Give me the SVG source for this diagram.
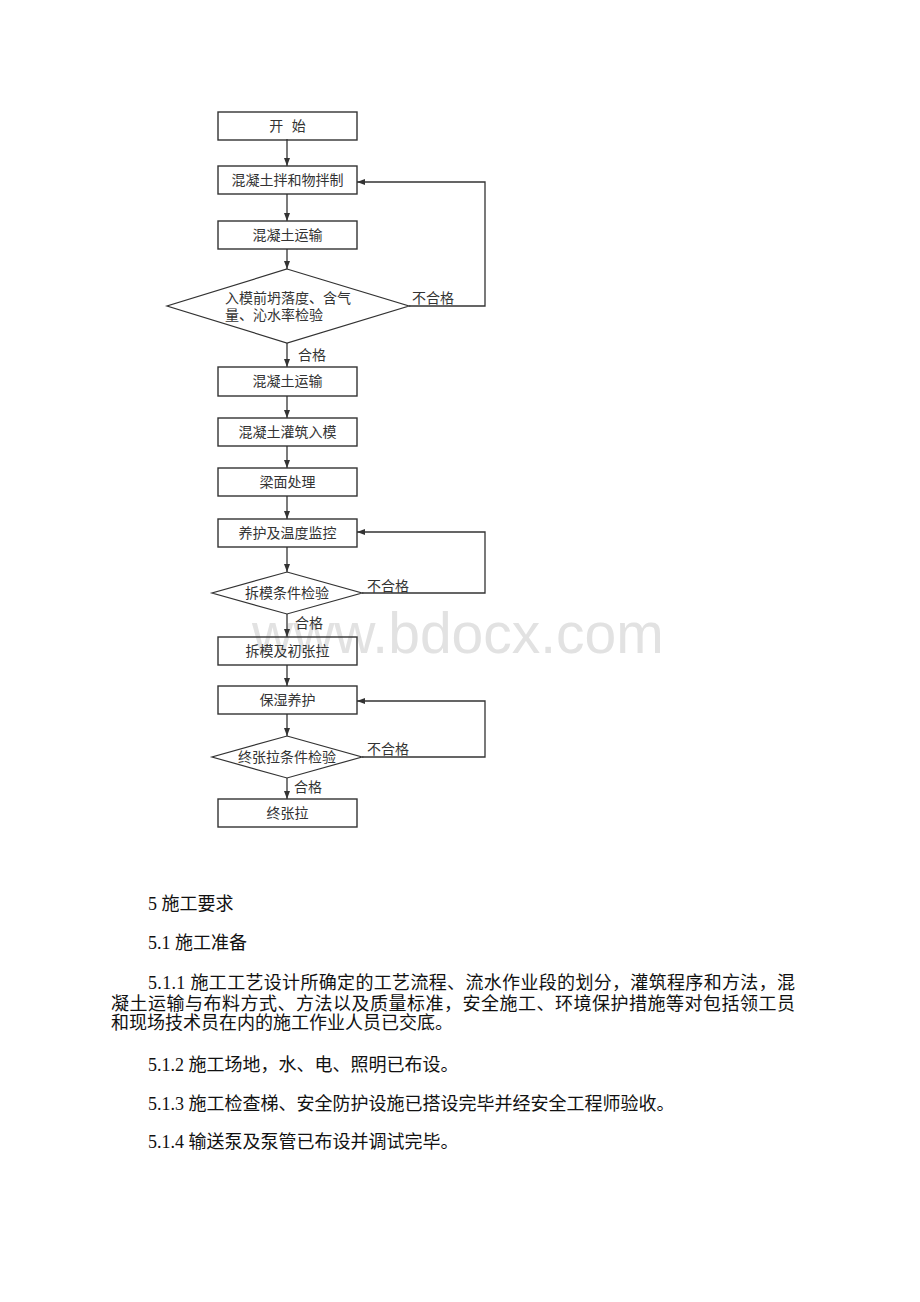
<svg xmlns="http://www.w3.org/2000/svg" width="920" height="1302" viewBox="0 0 920 1302">
<defs>
<marker id="arr" markerWidth="8" markerHeight="6" refX="8" refY="3" orient="auto" markerUnits="userSpaceOnUse">
<path d="M0,0 L8,3 L0,6 z" fill="#333"/>
</marker>
<style>
.box{fill:none;stroke:#333;stroke-width:1.4}
.dia{fill:none;stroke:#333;stroke-width:1.2}
.ln{fill:none;stroke:#333;stroke-width:1.3}
.arr{marker-end:url(#arr)}
.t{font-family:"Liberation Serif","Noto Sans CJK SC",serif;font-size:14px;fill:#333}
.c{text-anchor:middle}
.b{font-family:"Liberation Serif","Noto Sans CJK SC",serif;font-size:18px;fill:#111}
.wm{font-family:"Liberation Sans",Arial,sans-serif;font-size:57px;fill:#e2e2e2}
</style>
</defs>
<rect width="920" height="1302" fill="#fff"/>
<text class="wm" x="252" y="653">www.bdocx.com</text>

<g id="connectors">
<line class="ln arr" x1="287" y1="139" x2="287" y2="166"/>
<line class="ln arr" x1="287" y1="194" x2="287" y2="221"/>
<line class="ln arr" x1="287" y1="249" x2="287" y2="269"/>
<line class="ln arr" x1="287" y1="343" x2="287" y2="367"/>
<line class="ln arr" x1="287" y1="396" x2="287" y2="418"/>
<line class="ln arr" x1="287" y1="446" x2="287" y2="468"/>
<line class="ln arr" x1="287" y1="496" x2="287" y2="519"/>
<line class="ln arr" x1="287" y1="547" x2="287" y2="572"/>
<line class="ln arr" x1="287" y1="614" x2="287" y2="637"/>
<line class="ln arr" x1="287" y1="665" x2="287" y2="686"/>
<line class="ln arr" x1="287" y1="714" x2="287" y2="736"/>
<line class="ln arr" x1="287" y1="778" x2="287" y2="799"/>
<polyline class="ln arr" points="409,306 485,306 485,182 357,182"/>
<polyline class="ln arr" points="362,593 485,593 485,532 357,532"/>
<polyline class="ln arr" points="362,757 485,757 485,701 357,701"/>
<text class="t" x="412" y="303">不合格</text>
<text class="t" x="367" y="591">不合格</text>
<text class="t" x="367" y="754">不合格</text>
<text class="t" x="298" y="360">合格</text>
<text class="t" x="295" y="628">合格</text>
<text class="t" x="294" y="792">合格</text>
</g>

<g id="n1"><rect class="box" x="218" y="112" width="139" height="28"/><text class="t c" x="287.5" y="131" word-spacing="5">开 始</text></g>
<g id="n2"><rect class="box" x="218" y="166" width="139" height="28"/><text class="t c" x="287.5" y="185">混凝土拌和物拌制</text></g>
<g id="n3"><rect class="box" x="218" y="221" width="139" height="28"/><text class="t c" x="287.5" y="240">混凝土运输</text></g>
<g id="d1"><polygon class="dia" points="287,269 409,306 287,343 167,306"/><text class="t" x="225" y="303">入模前坍落度、含气</text><text class="t" x="225" y="320">量、沁水率检验</text></g>
<g id="n4"><rect class="box" x="218" y="367" width="139" height="29"/><text class="t c" x="287.5" y="386">混凝土运输</text></g>
<g id="n5"><rect class="box" x="218" y="418" width="139" height="28"/><text class="t c" x="287.5" y="437">混凝土灌筑入模</text></g>
<g id="n6"><rect class="box" x="218" y="468" width="139" height="28"/><text class="t c" x="287.5" y="487">梁面处理</text></g>
<g id="n7"><rect class="box" x="218" y="519" width="139" height="28"/><text class="t c" x="287.5" y="538">养护及温度监控</text></g>
<g id="d2"><polygon class="dia" points="287,572 362,593 287,614 212,593"/><text class="t c" x="287" y="598">拆模条件检验</text></g>
<g id="n8"><rect class="box" x="218" y="637" width="139" height="28"/><text class="t c" x="287.5" y="656">拆模及初张拉</text></g>
<g id="n9"><rect class="box" x="218" y="686" width="139" height="28"/><text class="t c" x="287.5" y="705">保湿养护</text></g>
<g id="d3"><polygon class="dia" points="287,736 362,757 287,778 212,757"/><text class="t c" x="287" y="762">终张拉条件检验</text></g>
<g id="n10"><rect class="box" x="218" y="799" width="139" height="28"/><text class="t c" x="287.5" y="818">终张拉</text></g>

<g id="body">
<text class="b" x="148" y="910">5 施工要求</text>
<text class="b" x="148" y="949">5.1 施工准备</text>
<text class="b" x="148" y="989" textLength="647" lengthAdjust="spacing">5.1.1 施工工艺设计所确定的工艺流程、流水作业段的划分，灌筑程序和方法，混</text>
<text class="b" x="111" y="1009.5" textLength="684" lengthAdjust="spacing">凝土运输与布料方式、方法以及质量标准，安全施工、环境保护措施等对包括领工员</text>
<text class="b" x="111" y="1029">和现场技术员在内的施工作业人员已交底。</text>
<text class="b" x="148" y="1071">5.1.2 施工场地，水、电、照明已布设。</text>
<text class="b" x="148" y="1110">5.1.3 施工检查梯、安全防护设施已搭设完毕并经安全工程师验收。</text>
<text class="b" x="148" y="1148">5.1.4 输送泵及泵管已布设并调试完毕。</text>
</g>
</svg>
